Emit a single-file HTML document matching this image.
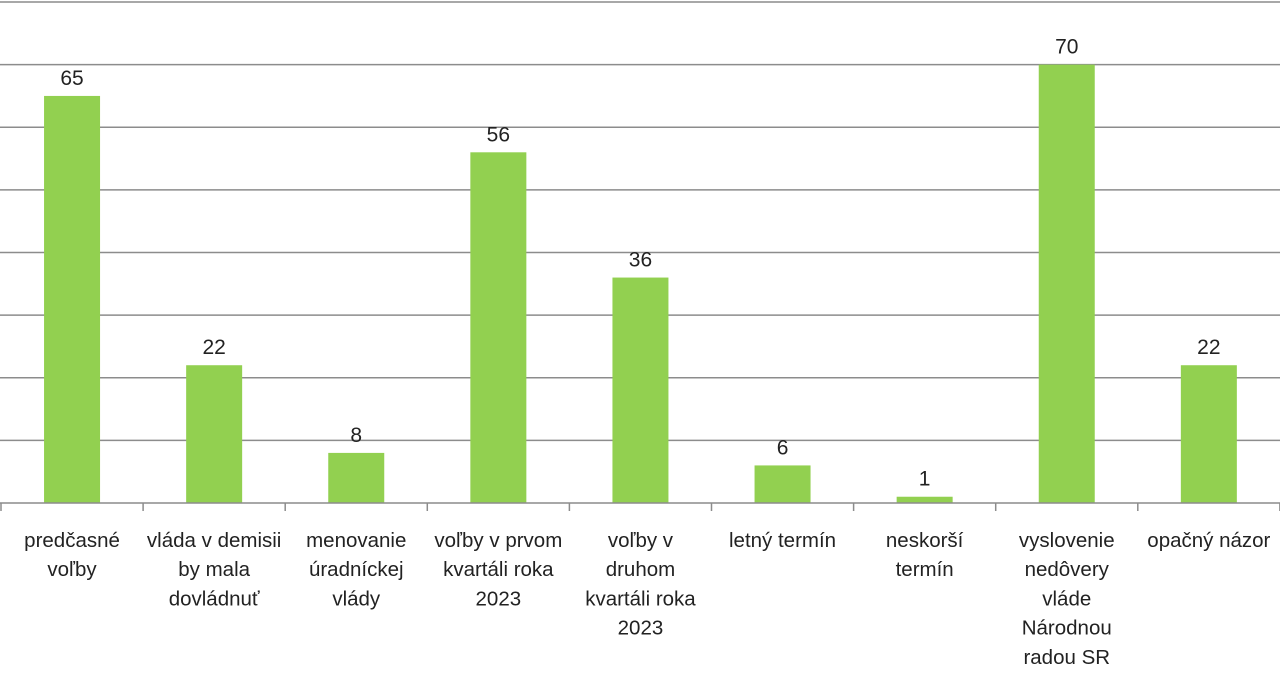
<!DOCTYPE html>
<html><head><meta charset="utf-8"><style>
body{margin:0;background:#fff;width:1280px;height:674px;overflow:hidden}
svg{display:block}
text{font-family:"Liberation Sans",sans-serif;fill:#222}
</style></head><body>
<svg id="chart" width="1280" height="674" xmlns="http://www.w3.org/2000/svg"></svg>
<script>
const categories=[["predčasné","voľby"],["vláda v demisii","by mala","dovládnuť"],["menovanie","úradníckej","vlády"],["voľby v prvom","kvartáli roka","2023"],["voľby v","druhom","kvartáli roka","2023"],["letný termín"],["neskorší","termín"],["vyslovenie","nedôvery","vláde","Národnou","radou SR"],["opačný názor"]];
const values=[65,22,8,56,36,6,1,70,22];
const gridTicks=[0,10,20,30,40,50,60,70,80];
const NS="http://www.w3.org/2000/svg";
const svg=document.getElementById('chart');
const x0=1,catW=142.1,base=503,top0=2,yMax=80,barW=56;
const y=v=>base-(base-top0)*v/yMax;
const xc=i=>x0+catW*(i+0.5);
function mk(t,a){const e=document.createElementNS(NS,t);for(const k in a)e.setAttribute(k,a[k]);svg.appendChild(e);return e;}
gridTicks.forEach(t=>{if(t===0)return;
const l=mk('line',{x1:0,x2:1280,y1:y(t),y2:y(t),stroke:'#8c8c8c','stroke-width':1.5});

});
values.forEach((v,i)=>{
const r=mk('rect',{x:xc(i)-barW/2,y:y(v),width:barW,height:base-y(v),fill:'#92d050'});


const t=mk('text',{x:xc(i),y:y(v)-11,'text-anchor':'middle','font-size':21});
t.textContent=v;


});
const ax=mk('line',{x1:0,x2:1280,y1:base,y2:base,stroke:'#8c8c8c','stroke-width':1.5});


for(let i=0;i<=categories.length;i++){
const tk=mk('line',{x1:x0+catW*i,x2:x0+catW*i,y1:base,y2:base+8,stroke:'#8c8c8c','stroke-width':1.5});

}
categories.forEach((c,i)=>{
const t=mk('text',{x:xc(i),'text-anchor':'middle','font-size':20.5});


c.forEach((ln,j)=>{const s=document.createElementNS(NS,'tspan');s.setAttribute('x',xc(i));s.setAttribute('y',547+j*29.2);s.textContent=ln;t.appendChild(s);});
});
</script>
</body></html>
